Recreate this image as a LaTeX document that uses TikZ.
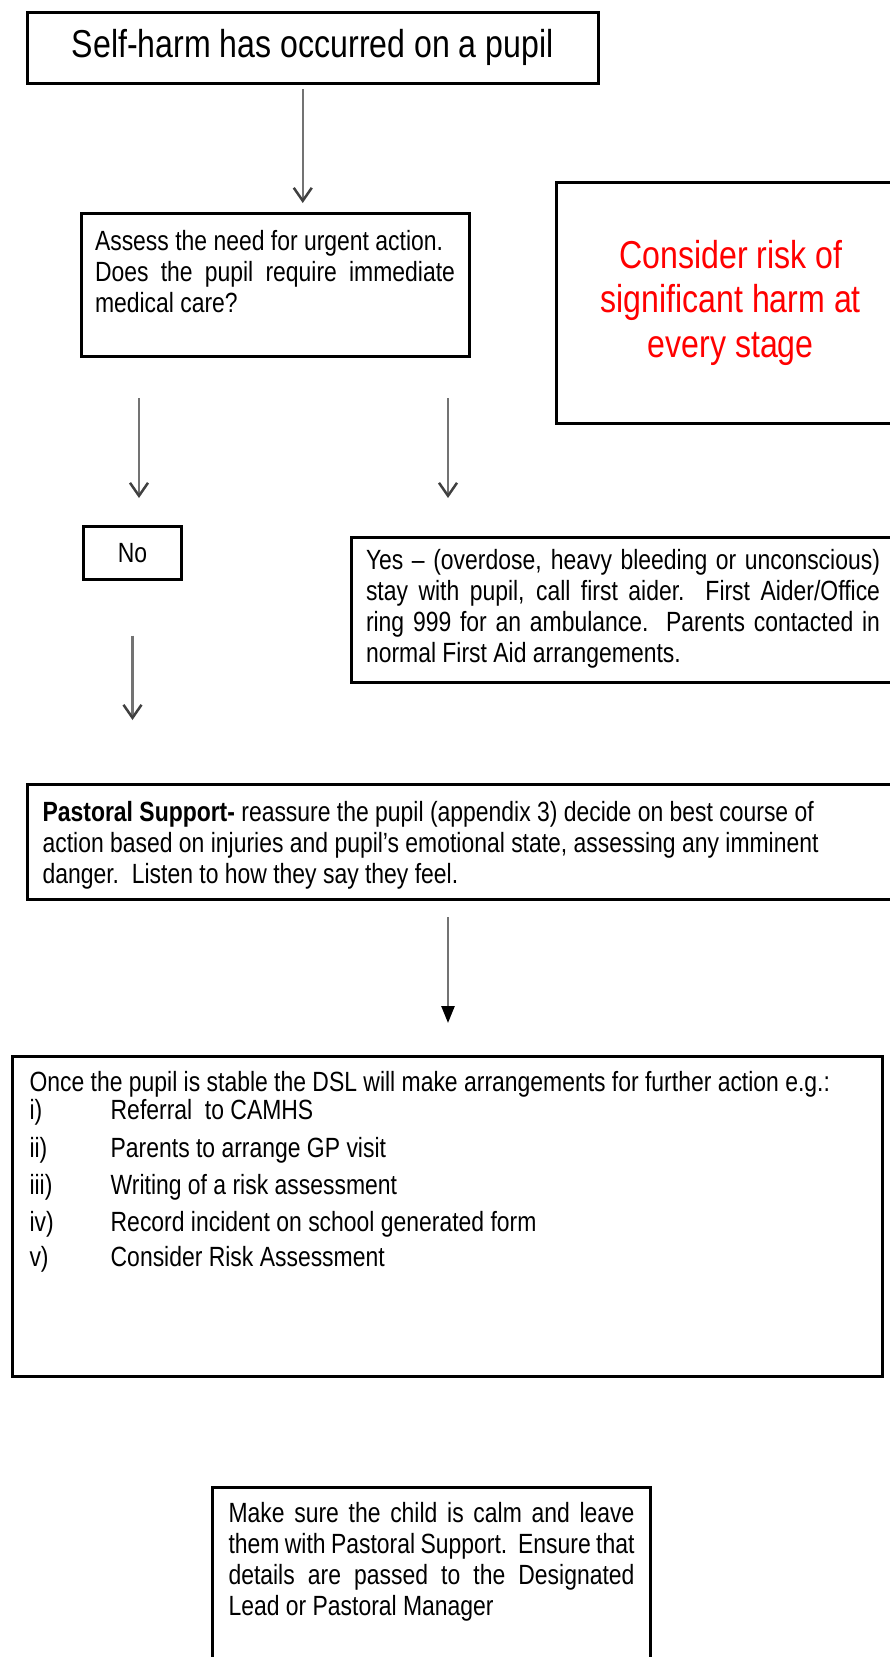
\documentclass[tikz,border=0pt]{standalone}
\usepackage{fontspec}
\setmainfont{Liberation Sans}[FakeStretch=0.825]
\usetikzlibrary{arrows.meta,calc}
\hyphenpenalty=10000
\exhyphenpenalty=10000
\newcommand\flowbody{\fontsize{27.8pt}{31pt}\selectfont}
\newcommand\flowhead{\fontsize{38.9pt}{44.7pt}\selectfont}
\newcommand\toptext[3]{\parbox[c][#1][t]{#2}{#3}}

\begin{document}
\begin{tikzpicture}[
  x=1pt,y=1pt,
  card/.style={draw,line width=3pt,outer sep=0pt,font=\flowbody},
  link/.style={-{Straight Barb[length=13pt,width=18pt,color=black!75]},line width=2.5pt,draw=black!55},
  heavylink/.style={-{Triangle[length=17pt,width=13pt,color=black]},line width=2.5pt,draw=black!55}
]
  \useasboundingbox (0,0) rectangle (890,-1657);
  \clip (0,0) rectangle (890,-1657);

  \node[card,font=\flowhead,minimum width=571.5pt,minimum height=71pt] (harm) at (312.75,-47.5)
    {Self-harm has occurred on a pupil};
  \node[card,anchor=north west,inner xsep=14pt,inner ysep=17pt] (assess) at (81,-213.5)
    {\toptext{109pt}{360pt}{Assess the need for urgent action.\\ Does the pupil require immediate medical care?}};
  \node[card,font=\flowhead,text=red,align=center,minimum width=348.5pt,minimum height=241.5pt] (risk) at (730.75,-302.75)
    {Consider risk of\\significant harm at\\every stage};
  \node[card,minimum width=98pt,minimum height=53pt,inner sep=0pt] (no) at (132.5,-553) {No};
  \node[card,anchor=north west,inner xsep=14.5pt,inner ysep=12.7pt] (yes) at (351.5,-537)
    {\toptext{120pt}{514pt}{Yes – (overdose, heavy bleeding or unconscious)\linebreak
     stay with pupil, call first aider.\ \ First Aider/Office\linebreak
     ring 999 for an ambulance.\ \ Parents contacted in\linebreak
     normal First Aid arrangements.}};
  \node[card,anchor=north west,inner xsep=15.6pt,inner ysep=16.9pt] (pastoral) at (27,-784.5)
    {\toptext{81pt}{847pt}{\raggedright \textbf{Pastoral Support-} reassure the pupil (appendix 3) decide on best course of\\
     action based on injuries and pupil's emotional state, assessing any imminent\\
     danger.\ \ Listen to how they say they feel.}};
  \node[card,anchor=north west,inner xsep=17pt,inner ysep=15.2pt] (stable) at (12.5,-1056.5)
    {\toptext{289.6pt}{836pt}{\raggedright Once the pupil is stable the DSL will make arrangements for further action e.g.:\\[-3pt]
     \makebox[81.2pt][l]{i)}Referral\ \ to CAMHS\\[7pt]
     \makebox[81.2pt][l]{ii)}Parents to arrange GP visit\\[6pt]
     \makebox[81.2pt][l]{iii)}Writing of a risk assessment\\[6pt]
     \makebox[81.2pt][l]{iv)}Record incident on school generated form\\[4pt]
     \makebox[81.2pt][l]{v)}Consider Risk Assessment}};
  \node[card,anchor=north west,inner xsep=16pt,inner ysep=15.5pt] (calm) at (212.5,-1487.2)
    {\toptext{189pt}{406pt}{Make sure the child is calm and leave\linebreak
     them with Pastoral Support.\ \ Ensure that\linebreak
     details are passed to the Designated\linebreak
     Lead or Pastoral Manager}};

  \draw[link,shorten <=6pt,shorten >=10.5pt] ([xshift=-10pt]harm.south) -- ([xshift=-10pt]harm.south |- assess.north);
  \draw[link,shorten <=41.5pt,shorten >=28.5pt] ([xshift=6.5pt]no.north |- assess.south) -- ([xshift=6.5pt]no.north);
  \draw[link,shorten <=41.5pt,shorten >=39pt] ([xshift=-21pt]assess.south east) -- ([xshift=-21pt]assess.south east |- yes.north);
  \draw[link,shorten <=56pt,shorten >=64.5pt] (no.south) -- (no.south |- pastoral.north);
  \draw[heavylink,shorten <=18pt,shorten >=33.5pt] ([xshift=421pt]pastoral.south west) -- ([xshift=421pt]pastoral.south west |- stable.north);
\end{tikzpicture}
\end{document}
